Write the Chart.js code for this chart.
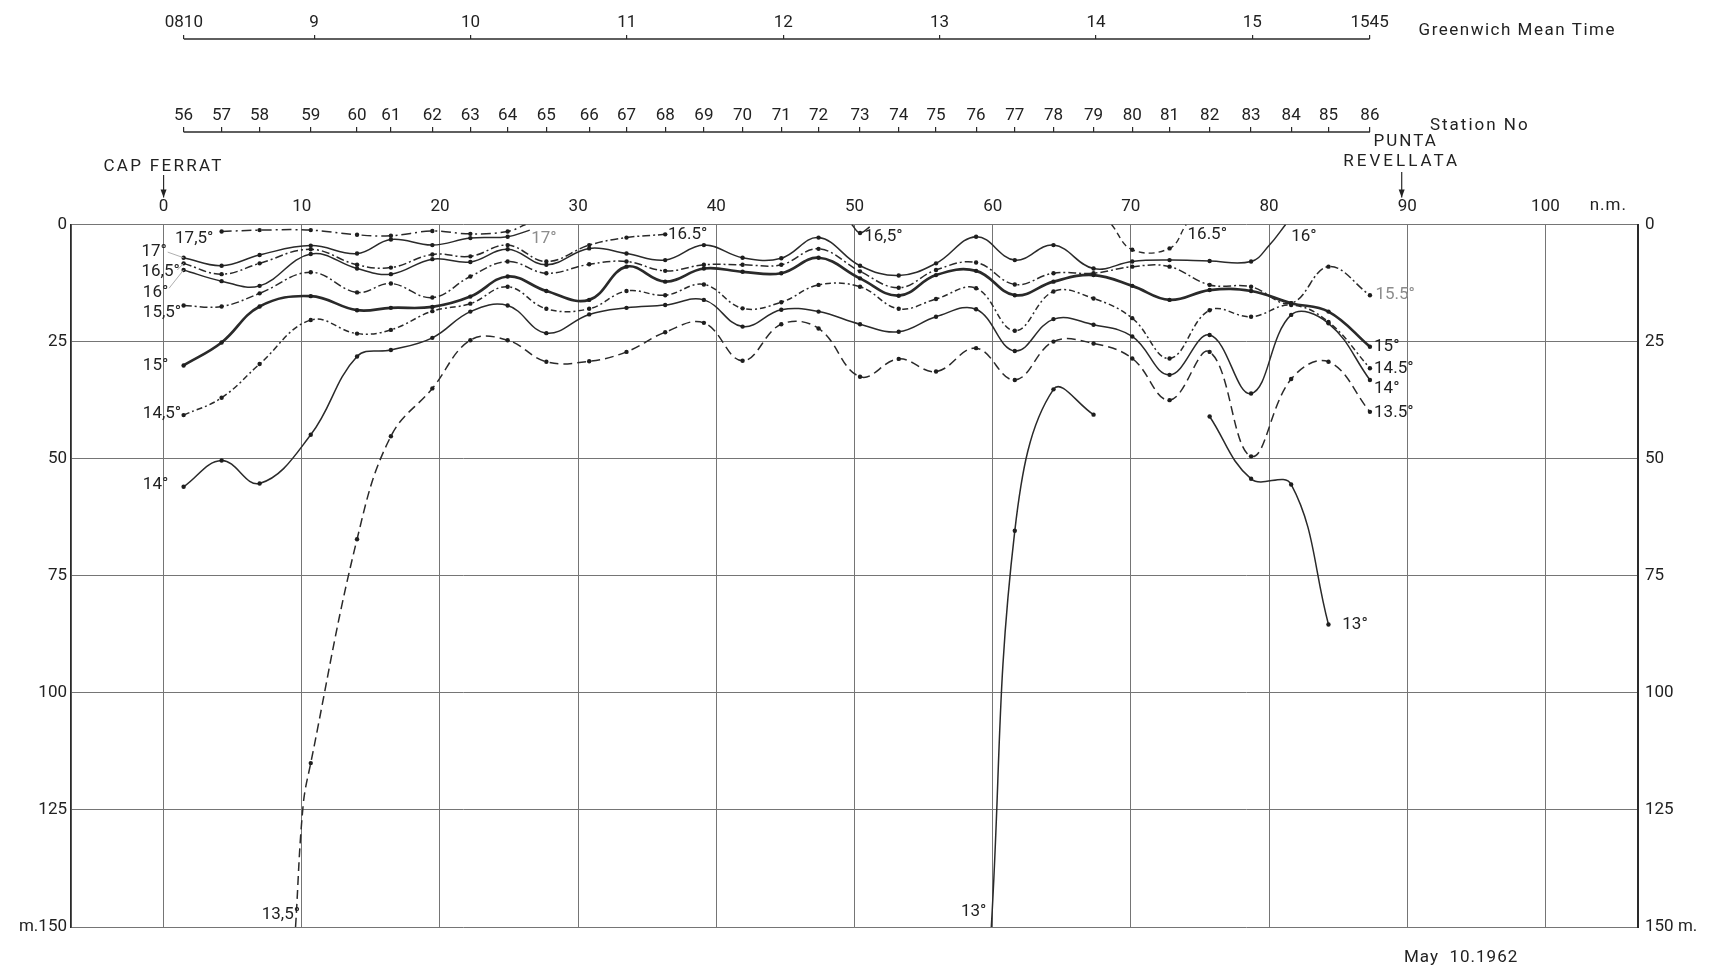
<!DOCTYPE html>
<html>
<head>
<meta charset="utf-8">
<title>Isotherms Cap Ferrat - Punta Revellata, May 10 1962</title>
<script src="https://cdn.jsdelivr.net/npm/chart.js@4.4.1/dist/chart.umd.min.js"></script>
<style>
  html, body { margin: 0; padding: 0; background: #fff; }
  canvas { display: block; }
</style>
</head>
<body>
<canvas id="section" width="1712" height="974"></canvas>
<script>
// stations of the run and their distance from Cap Ferrat (n.m.)
const stationNo = [56, 57, 58, 59, 60, 61, 62, 63, 64, 65, 66, 67, 68, 69, 70, 71,
                   72, 73, 74, 75, 76, 77, 78, 79, 80, 81, 82, 83, 84, 85, 86];
const stationNm = [1.45, 4.2, 6.95, 10.65, 14.0, 16.45, 19.45, 22.2, 24.9, 27.7, 30.8,
                   33.5, 36.3, 39.1, 41.9, 44.7, 47.4, 50.4, 53.2, 55.9, 58.8, 61.6,
                   64.4, 67.3, 70.1, 72.8, 75.7, 78.7, 81.6, 84.3, 87.3];

// Greenwich Mean Time axis (minutes after midnight)
const timeTicks = [490, 540, 600, 660, 720, 780, 840, 900, 945];
const timeLabels = ['0810', '9', '10', '11', '12', '13', '14', '15', '1545'];

const nmTicks = [0, 10, 20, 30, 40, 50, 60, 70, 80, 90, 100];
const depthTicks = [0, 25, 50, 75, 100, 125, 150];

// isotherms, [distance n.m., depth m]
const iso175 = [[4.2, 1.5], [6.95, 1.2], [10.65, 1.2], [14.0, 2.2], [16.45, 2.4], [19.45, 1.4],
                [22.2, 2.0], [24.9, 1.5], [26.2, 0]];
const iso17 = [[1.45, 7.1], [4.2, 8.8], [6.95, 6.5], [10.65, 4.5], [14.0, 6.2], [16.45, 3.2],
               [19.45, 4.4], [22.2, 2.9], [24.9, 2.6], [26.5, 1.2]];
const iso165 = [[1.45, 8.3], [4.2, 10.6], [6.95, 8.3], [10.65, 5.3], [14.0, 8.6], [16.45, 9.2],
                [19.45, 6.4], [22.2, 6.8], [24.9, 4.4], [27.7, 7.9], [30.8, 4.4], [33.5, 2.8],
                [36.3, 2.1]];
const iso165b = [[49.8, 0], [50.4, 1.8], [51.1, 0.5]];
const iso165c = [[68.6, 0], [70.1, 5.4], [72.8, 5.1], [74.0, 0]];
const iso16 = [[1.45, 9.7], [4.2, 12.1], [6.95, 13.1], [10.65, 6.3], [14.0, 9.4], [16.45, 10.6],
               [19.45, 7.4], [22.2, 8.0], [24.9, 5.3], [27.7, 8.6], [30.8, 5.1], [33.5, 6.2],
               [36.3, 7.6], [39.1, 4.4], [41.9, 7.1], [44.7, 7.2], [47.4, 2.8], [50.4, 8.8],
               [53.2, 10.9], [55.9, 8.3], [58.8, 2.6], [61.6, 7.6], [64.4, 4.4], [67.3, 9.4],
               [70.1, 7.9], [72.8, 7.6], [75.7, 7.8], [78.7, 7.9], [80.0, 4.5], [81.2, 0]];
const iso155 = [[1.45, 17.3], [4.2, 17.5], [6.95, 14.7], [10.65, 10.2], [14.0, 14.5], [16.45, 12.6],
                [19.45, 15.6], [22.2, 11.1], [24.9, 7.9], [27.7, 10.4], [30.8, 8.5], [33.5, 7.9],
                [36.3, 9.9], [39.1, 8.6], [41.9, 8.6], [44.7, 8.6], [47.4, 5.2], [50.4, 10.0],
                [53.2, 13.5], [55.9, 9.7], [58.8, 8.1], [61.6, 12.8], [64.4, 10.4], [67.3, 10.4],
                [70.1, 9.0], [72.8, 9.0], [75.7, 12.9], [78.7, 13.3], [81.6, 16.8], [84.3, 9.0],
                [87.3, 15.1]];
const iso15 = [[1.45, 30.1], [4.2, 25.2], [6.95, 17.5], [10.65, 15.3], [14.0, 18.3], [16.45, 17.8],
               [19.45, 17.6], [22.2, 15.4], [24.9, 11.1], [27.7, 14.2], [30.8, 16.1], [33.5, 9.0],
               [36.3, 12.2], [39.1, 9.4], [41.9, 10.1], [44.7, 10.4], [47.4, 7.1], [50.4, 11.5],
               [53.2, 15.2], [55.9, 10.8], [58.8, 9.9], [61.6, 15.1], [64.4, 12.2], [67.3, 10.8],
               [70.1, 13.1], [72.8, 16.1], [75.7, 14.0], [78.7, 14.2], [81.6, 16.8], [84.3, 18.6],
               [87.3, 26.1]];
const iso145 = [[1.45, 40.7], [4.2, 37.0], [6.95, 29.8], [10.65, 20.4], [14.0, 23.3], [16.45, 22.5],
                [19.45, 18.5], [22.2, 16.9], [24.9, 13.3], [27.7, 18.0], [30.8, 18.0], [33.5, 14.2],
                [36.3, 15.1], [39.1, 12.8], [41.9, 17.9], [44.7, 16.6], [47.4, 12.9], [50.4, 13.3],
                [53.2, 18.0], [55.9, 15.9], [58.8, 13.6], [61.6, 22.7], [64.4, 14.3], [67.3, 15.8],
                [70.1, 20.0], [72.8, 28.6], [75.7, 18.3], [78.7, 19.7], [81.6, 17.2], [84.3, 20.8],
                [87.3, 30.7]];
const iso14 = [[1.45, 56.0], [4.2, 50.4], [6.95, 55.3], [10.65, 44.9], [14.0, 28.2], [16.45, 26.8],
               [19.45, 24.2], [22.2, 18.6], [24.9, 17.3], [27.7, 23.2], [30.8, 19.2], [33.5, 17.8],
               [36.3, 17.2], [39.1, 16.1], [41.9, 21.8], [44.7, 18.2], [47.4, 18.6], [50.4, 21.3],
               [53.2, 22.9], [55.9, 19.7], [58.8, 18.1], [61.6, 27.0], [64.4, 20.2], [67.3, 21.4],
               [70.1, 23.9], [72.8, 32.1], [75.7, 23.6], [78.7, 36.1], [81.6, 19.3], [84.3, 21.1],
               [87.3, 33.2]];
const iso135 = [[9.55, 150], [10.1, 124], [10.65, 115], [14.0, 67.2], [16.45, 45.2], [19.45, 35.0],
                [22.2, 24.7], [24.9, 24.7], [27.7, 29.3], [30.8, 29.2], [33.5, 27.2], [36.3, 23.0],
                [39.1, 21.0], [41.9, 29.1], [44.7, 21.3], [47.4, 22.2], [50.4, 32.5], [53.2, 28.7],
                [55.9, 31.4], [58.8, 26.4], [61.6, 33.2], [64.4, 25.0], [67.3, 25.4], [70.1, 28.6],
                [72.8, 37.5], [75.7, 27.2], [78.7, 49.5], [81.6, 33.0], [84.3, 29.3], [87.3, 40.0]];
const iso13a = [[59.9, 150], [61.6, 65.4], [64.4, 35.2], [67.3, 40.6]];
const iso13b = [[75.7, 41.0], [78.7, 54.3], [81.6, 55.5], [84.3, 85.4]];

// labels written on the section: text, n.m., depth, faint
const isoLabels = [
  ['17,5°', 0.83, 3.0], ['17°', -1.6, 5.8], ['16,5°', -1.6, 10.1], ['16°', -1.5, 14.5],
  ['15,5°', -1.5, 18.9], ['15°', -1.5, 30.1], ['14,5°', -1.5, 40.5], ['14°', -1.5, 55.6],
  ['13,5°', 7.1, 147.4], ['17°', 26.6, 3.0, true], ['16.5°', 36.5, 2.2], ['16,5°', 50.7, 2.6],
  ['16.5°', 74.1, 2.2], ['16°', 81.6, 2.6], ['15.5°', 87.7, 15.1, true], ['15°', 87.6, 26.1],
  ['14.5°', 87.6, 30.7], ['14°', 87.6, 35.0], ['13.5°', 87.6, 40.3], ['13°', 57.7, 146.8],
  ['13°', 85.3, 85.4]
];

const INK = '#2a2a2a';
const FONT = 'Roboto, "DejaVu Sans", sans-serif';
Chart.defaults.font.family = FONT;
Chart.defaults.font.size = 17;
Chart.defaults.color = '#222';

const dashDot = [8, 3, 2, 3];
const isotherms = [
  { pts: iso175, dash: [10, 4, 2, 4], width: 1.5 },
  { pts: iso17, dash: [], width: 1.5 },
  { pts: iso165, dash: dashDot, width: 1.5 },
  { pts: iso165b, dash: [], width: 1.5 },
  { pts: iso165c, dash: [6, 4], width: 1.4 },
  { pts: iso16, dash: [], width: 1.5 },
  { pts: iso155, dash: dashDot, width: 1.5 },
  { pts: iso15, dash: [], width: 2.7 },
  { pts: iso145, dash: [6, 3, 2, 3], width: 1.5 },
  { pts: iso14, dash: [], width: 1.5 },
  { pts: iso135, dash: [9, 5], width: 1.5 },
  { pts: iso13a, dash: [], width: 1.5 },
  { pts: iso13b, dash: [], width: 1.5 }
];

const isStation = v => stationNm.includes(v);

function arrowDown(ctx, x, y0, y1) {
  ctx.beginPath();
  ctx.moveTo(x, y0);
  ctx.lineTo(x, y1);
  ctx.stroke();
  ctx.beginPath();
  ctx.moveTo(x - 3, y1 - 8);
  ctx.lineTo(x, y1);
  ctx.lineTo(x + 3, y1 - 8);
  ctx.closePath();
  ctx.fill();
}

function text(ctx, s, x, y, align, spacing) {
  ctx.textAlign = align;
  ctx.letterSpacing = (spacing || 0) + 'px';
  ctx.fillText(s, x, y);
  ctx.letterSpacing = '0px';
}

const notes = {
  id: 'notes',
  beforeDraw(chart) {
    const c = chart.ctx;
    c.save();
    c.fillStyle = '#fff';
    c.fillRect(0, 0, chart.width, chart.height);
    c.restore();
  },
  afterDraw(chart) {
    const { ctx, chartArea, scales } = chart;
    const { x, y, station, gmt } = scales;
    ctx.save();
    ctx.strokeStyle = INK;
    ctx.fillStyle = '#222';
    ctx.lineWidth = 1.6;

    // axis lines of the station and time scales, only over the run
    const sy = station.bottom, gy = gmt.bottom;
    const s0 = station.getPixelForValue(stationNm[0]);
    const s1 = station.getPixelForValue(stationNm[stationNm.length - 1]);
    ctx.beginPath(); ctx.moveTo(s0, sy); ctx.lineTo(s1, sy); ctx.stroke();
    const g0 = gmt.getPixelForValue(timeTicks[0]);
    const g1 = gmt.getPixelForValue(timeTicks[timeTicks.length - 1]);
    ctx.beginPath(); ctx.moveTo(g0, gy); ctx.lineTo(g1, gy); ctx.stroke();

    ctx.font = '17px ' + FONT;
    ctx.textBaseline = 'middle';
    text(ctx, 'Greenwich Mean Time', g1 + 49, gy - 8, 'left', 1.5);
    text(ctx, 'Station No', s1 + 60, sy - 6, 'left', 2);

    // end points of the run
    ctx.lineWidth = 1.2;
    const cf = x.getPixelForValue(0);
    text(ctx, 'CAP FERRAT', cf, sy + 35, 'center', 2.3);
    arrowDown(ctx, cf, sy + 43, chartArea.top - 27);
    const pr = x.getPixelForValue(89.6);
    text(ctx, 'PUNTA', pr + 4, sy + 10, 'center', 2);
    text(ctx, 'REVELLATA', pr, sy + 30, 'center', 3);
    arrowDown(ctx, pr, sy + 40, chartArea.top - 27);

    text(ctx, 'n.m.', x.getPixelForValue(103.2), chartArea.top - 19, 'left', 1);
    text(ctx, 'May  10.1962', x.getPixelForValue(93.9), chartArea.bottom + 31, 'center', 1);

    // isotherm labels
    ctx.font = '17px ' + FONT;
    isoLabels.forEach(([t, nm, d, faint]) => {
      ctx.fillStyle = faint ? '#8c8c8c' : '#222';
      text(ctx, t, x.getPixelForValue(nm), y.getPixelForValue(d), 'left', 0);
    });

    // faint leaders from the left hand labels to their isotherms
    ctx.strokeStyle = '#b0b0b0';
    ctx.lineWidth = 1;
    [[0.3, 5.9, iso17[0]], [1.0, 9.7, iso165[0]], [0.4, 13.6, iso16[0]]].forEach(([n, d, p]) => {
      ctx.beginPath();
      ctx.moveTo(x.getPixelForValue(n), y.getPixelForValue(d));
      ctx.lineTo(x.getPixelForValue(p[0]), y.getPixelForValue(p[1]));
      ctx.stroke();
    });
    ctx.restore();
  }
};

const ctx = document.getElementById('section').getContext('2d');
new Chart(ctx, {
  type: 'line',
  data: {
    datasets: isotherms.map(s => ({
      data: s.pts.map(p => ({ x: p[0], y: p[1] })),
      borderColor: INK,
      borderWidth: s.width,
      borderDash: s.dash,
      tension: 0.4,
      fill: false,
      pointRadius: c => (c.raw && isStation(c.raw.x)) ? 2.2 : 0,
      pointBackgroundColor: '#1e1e1e',
      pointBorderWidth: 0,
      xAxisID: 'x',
      yAxisID: 'y'
    }))
  },
  options: {
    responsive: false,
    animation: false,
    events: [],
    layout: { padding: { top: 0, right: 0, bottom: 47, left: 0 } },
    plugins: { legend: { display: false }, tooltip: { enabled: false } },
    scales: {
      x: {
        type: 'linear', position: 'top', weight: 0, min: -6.7, max: 106.7,
        afterBuildTicks: s => { s.ticks = nmTicks.map(v => ({ value: v })); },
        afterFit: s => { s.height = 92.5; },
        grid: { color: '#757575', lineWidth: 1, drawTicks: false },
        border: { display: false },
        ticks: { padding: 8, autoSkip: false, maxRotation: 0 }
      },
      station: {
        type: 'linear', position: 'top', weight: 1, min: -6.7, max: 106.7,
        afterBuildTicks: s => { s.ticks = stationNm.map(v => ({ value: v })); },
        afterFit: s => { s.height = 93; },
        grid: { drawOnChartArea: false, tickLength: 5, color: INK, lineWidth: 1.2 },
        border: { display: false },
        ticks: { padding: 1, autoSkip: false, maxRotation: 0, callback: (v, i) => stationNo[i] }
      },
      gmt: {
        type: 'linear', position: 'top', weight: 2, min: 446.7, max: 1048,
        afterBuildTicks: s => { s.ticks = timeTicks.map(v => ({ value: v })); },
        afterFit: s => { s.height = 39; },
        grid: { drawOnChartArea: false, tickLength: 4, color: INK, lineWidth: 1.2 },
        border: { display: false },
        ticks: { padding: 2, autoSkip: false, maxRotation: 0, callback: (v, i) => timeLabels[i] }
      },
      y: {
        type: 'linear', position: 'left', reverse: true, min: 0, max: 150,
        afterBuildTicks: s => { s.ticks = depthTicks.map(v => ({ value: v })); },
        afterFit: s => { s.width = 71; },
        grid: { color: '#757575', lineWidth: 1, drawTicks: false },
        border: { color: INK, width: 1.8 },
        ticks: { padding: 4, callback: v => (v === 150 ? 'm.150' : v) }
      },
      y2: {
        type: 'linear', position: 'right', reverse: true, min: 0, max: 150,
        afterBuildTicks: s => { s.ticks = depthTicks.map(v => ({ value: v })); },
        afterFit: s => { s.width = 74; },
        grid: { drawOnChartArea: false, drawTicks: false },
        border: { color: INK, width: 2 },
        ticks: { padding: 7, callback: v => (v === 150 ? '150 m.' : v) }
      }
    }
  },
  plugins: [notes]
});
</script>
</body>
</html>
